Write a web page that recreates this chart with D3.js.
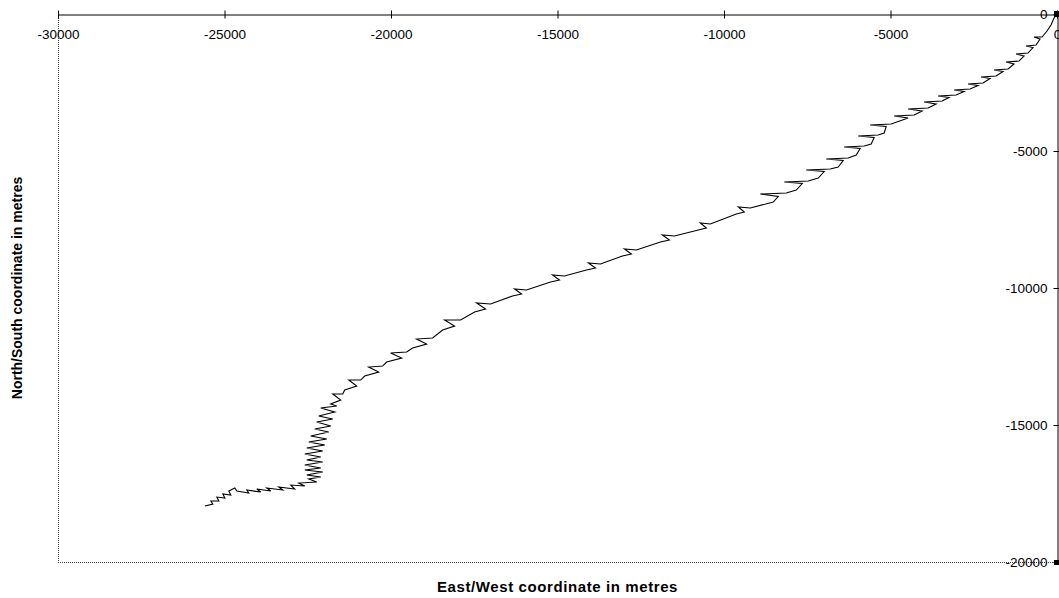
<!DOCTYPE html>
<html>
<head>
<meta charset="utf-8">
<script src="https://cdn.jsdelivr.net/npm/d3@7"></script>
<style>
body { margin: 0; background: #fff; }
text { font-family: Arial, "Liberation Sans", sans-serif; fill: #000; }
</style>
</head>
<body>
<script>
var w = 1059;
var h = 598;

// track positions in metres (east/west, north/south)
var eastWest = [
    0, -90, -180, -300, -450, -690, -510, -630, -930, -720, -870, -1230, -990, -1140, -1530, -1290,
    -1470, -1890, -1620, -1830, -2280, -2010,
    -2220, -2670, -2370, -2610, -3090, -2790, -3030, -3570, -3240, -3450, -3990, -3630, -3870, -4470,
    -4050, -4290, -4890, -4470,
    -4980, -5610, -5130, -5190, -5370, -5970, -5490, -5580, -5790, -6390, -5910, -6030, -6270, -6930,
    -6420, -6570, -6810, -7530, -6990, -7170, -7470, -8190, -7650, -7830, -8130, -8910, -8370, -8520,
    -9210, -9570, -9390, -9630, -10410, -10710, -10530, -10770, -11490, -11850, -11640, -11910,
    -12630, -12990, -12780, -13050, -13710, -14070, -13860, -14130, -14790, -15150, -14940, -15210,
    -15930, -16290, -16080, -16350,
    -17010, -17430, -17160, -17490, -17910, -18390, -18090, -18450, -18750, -19230, -18930, -19350,
    -19530, -20010, -19680, -20130, -20250, -20670, -20370, -20790, -20910, -21270, -21030, -21390,
    -21450, -21750, -21510, -21810,
    -21630, -22110, -21690, -22170, -21750, -22230, -21810, -22290, -21870, -22410, -21930, -22470,
    -21990, -22530, -22050, -22590, -22110, -22530, -22050, -22590, -22110, -22590, -22050, -22530,
    -22110, -22470, -22230,
    -22770, -22590, -23010, -22890, -23370, -23250, -23730, -23610, -24030, -23910, -24330, -24270,
    -24630, -24690, -24870, -24810, -25050, -24990, -25230, -25170, -25410, -25350, -25590
];
var northSouth = [
    0, -146, -402, -621, -840, -840, -913, -1132, -1168, -1223, -1424, -1460, -1533, -1716, -1752, -1825,
    -2008, -2044, -2099, -2263, -2300, -2354,
    -2519, -2555, -2610, -2738, -2774, -2829, -2957, -2993, -3048, -3176, -3212, -3285, -3431, -3468,
    -3541, -3687, -3723, -3796,
    -4015, -4052, -4106, -4344, -4417, -4453, -4508, -4745, -4818, -4855, -4909, -5147, -5256, -5293,
    -5347, -5585, -5658, -5694, -5749, -5986, -6096, -6132, -6187, -6424, -6534, -6570, -6661, -6862,
    -7081, -7045, -7227, -7300, -7665, -7629, -7811, -7884, -8103, -8067, -8249, -8322,
    -8614, -8578, -8760, -8833, -9125, -9089, -9271, -9344, -9563, -9527, -9709, -9782,
    -10074, -10038, -10220, -10293,
    -10585, -10549, -10768, -10877, -11169, -11169, -11388, -11534, -11826, -11863, -12045, -12191,
    -12337, -12374, -12556, -12702, -12848, -12885, -13067, -13213, -13359, -13359, -13578, -13724,
    -13870, -13870, -14089, -14235,
    -14308, -14381, -14527, -14673, -14783, -14892, -15038, -15148, -15257, -15403, -15513, -15622,
    -15732, -15841, -15951, -16060, -16170, -16279, -16352, -16462, -16571, -16644, -16717, -16827,
    -16900, -16973, -17082,
    -17119, -17228, -17192, -17338, -17265, -17374, -17301, -17411, -17338, -17447, -17374, -17484,
    -17411, -17301, -17411, -17557, -17520, -17666, -17630, -17776, -17776, -17885, -17958
];

var xTicks = [-30000, -25000, -20000, -15000, -10000, -5000, 0];
var yTicks = [0, -5000, -10000, -15000, -20000];

var padL = 58, padR = 1057, padT = 14, padB = 562;

var svg = d3.select("body").append("svg").attr("width", w).attr("height", h);

var x = d3.scaleLinear().domain([-30000, 0]).range([padL, padR]);
var y = d3.scaleLinear().domain([0, -20000]).range([padT, padB]);

// dotted plot border on left and bottom
svg.append("line").attr("x1", padL + 0.5).attr("x2", padL + 0.5).attr("y1", padT).attr("y2", padB)
    .attr("stroke", "#444").attr("stroke-dasharray", "1,1");
svg.append("line").attr("x1", padL).attr("x2", padR).attr("y1", padB + 0.5).attr("y2", padB + 0.5)
    .attr("stroke", "#444").attr("stroke-dasharray", "1,1");

// x axis at top, ticks crossing the line
var xAxis = d3.axisBottom(x).tickValues(xTicks).tickSizeInner(0).tickSizeOuter(0).tickPadding(15)
    .tickFormat(function(d) { return String(d); });
var gx = svg.append("g").attr("transform", "translate(0," + (padT + 0.5) + ")").call(xAxis);
gx.select(".domain").attr("stroke", "#000");
gx.selectAll(".tick line").attr("y1", -4).attr("y2", 4).attr("stroke", "#000");
gx.selectAll(".tick text").style("font-size", "13.5px").style("font-family", "Arial, 'Liberation Sans', sans-serif");

// y axis at right, labels to the left
var yAxis = d3.axisLeft(y).tickValues(yTicks).tickSizeInner(0).tickSizeOuter(0).tickPadding(10)
    .tickFormat(function(d) { return String(d); });
var gy = svg.append("g").attr("transform", "translate(" + (padR + 0.5) + ",0)").call(yAxis);
gy.select(".domain").attr("stroke", "#000");
gy.selectAll(".tick line").attr("x1", -4).attr("x2", 4).attr("stroke", "#000");
gy.selectAll(".tick text").style("font-size", "13.5px").style("font-family", "Arial, 'Liberation Sans', sans-serif");

// small handle squares at the axis ends
svg.append("rect").attr("x", padR - 3).attr("y", padT - 3).attr("width", 5).attr("height", 6).attr("fill", "#000");
svg.append("rect").attr("x", padR - 3).attr("y", padB - 2).attr("width", 5).attr("height", 5).attr("fill", "#000");

// the track
var pts = eastWest.map(function(d, i) { return [d, northSouth[i]]; });
var line = d3.line().x(function(d) { return x(d[0]); }).y(function(d) { return y(d[1]); });
svg.append("path").datum(pts).attr("d", line)
    .attr("fill", "none").attr("stroke", "#000").attr("stroke-width", 1.1);

// axis titles
svg.append("text").attr("x", (padL + padR) / 2).attr("y", 592)
    .attr("text-anchor", "middle").style("font-weight", "bold").style("font-size", "15px")
    .style("letter-spacing", "0.6px")
    .text("East/West coordinate in metres");
svg.append("text").attr("transform", "translate(22," + ((padT + padB) / 2) + ") rotate(-90)")
    .attr("text-anchor", "middle").style("font-weight", "bold").style("font-size", "14px")
    .text("North/South coordinate in metres");
</script>
</body>
</html>
